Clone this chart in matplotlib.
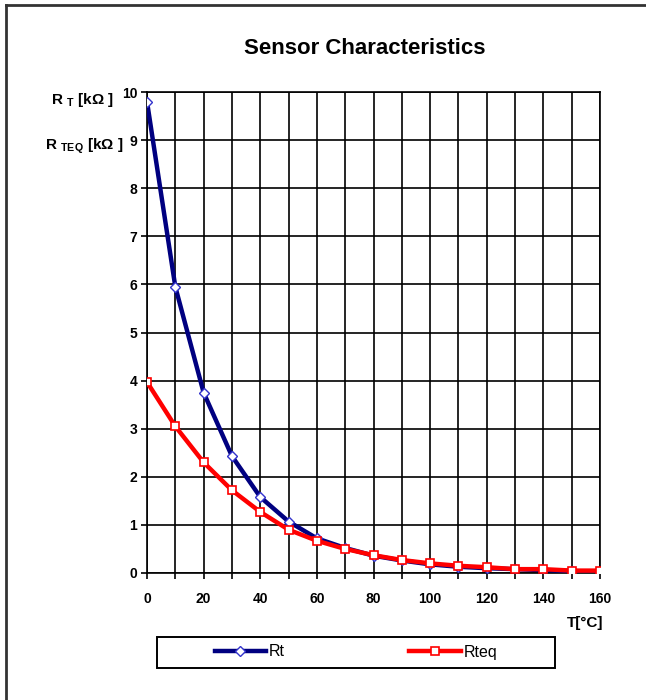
"""
Sensor Characteristics: Rt y Rteq frente a la temperatura.
"""
import matplotlib
matplotlib.use("Agg")
import matplotlib.pyplot as plt
from matplotlib.lines import Line2D
from matplotlib.patches import Rectangle

plt.rcParams['font.family'] = ['Liberation Sans', 'DejaVu Sans']
plt.rcParams['mathtext.fontset'] = 'custom'
plt.rcParams['mathtext.rm'] = 'Liberation Sans:bold'
plt.rcParams['mathtext.bf'] = 'Liberation Sans:bold'

# datos
temperatura = [0, 10, 20, 30, 40, 50, 60, 70, 80, 90, 100, 110, 120, 130, 140, 150, 160]
rt = [9.8, 5.95, 3.75, 2.43, 1.58, 1.07, 0.72, 0.52, 0.36, 0.26, 0.18, 0.13, 0.10,
      0.08, 0.06, 0.04, 0.03]
rteq = [3.97, 3.05, 2.30, 1.72, 1.27, 0.90, 0.67, 0.50, 0.37, 0.27, 0.20, 0.15, 0.12,
        0.08, 0.08, 0.05, 0.05]
xticks = list(range(0, 161, 10))
xlabels = [str(t) if t % 20 == 0 else '' for t in xticks]
yticks = list(range(0, 11))

W, H = 646, 700
fig = plt.figure(figsize=(W / 100, H / 100), dpi=100)
ax = fig.add_axes([147 / W, 1 - 573 / H, 453 / W, 481 / H])

l1, = ax.plot(temperatura, rt, color='#000080', lw=3.2, marker='D', ms=5,
              mfc='white', mec='#3333cc', mew=1, zorder=3, label='Rt')
l2, = ax.plot(temperatura, rteq, color='#ff0000', lw=3.2, marker='s', ms=6,
              mfc='white', mec='#ff0000', mew=1.2, zorder=4, label='Rteq')

ax.set_xlim(0, 160)
ax.set_ylim(0, 10)
ax.set_xticks(xticks)
ax.set_xticklabels(xlabels, fontsize=10, fontweight='bold')
ax.set_yticks(yticks)
ax.set_yticklabels([str(v) for v in yticks], fontsize=10, fontweight='bold')
ax.tick_params(direction='out', length=4, width=1.2, color='black')
ax.tick_params(axis='x', pad=10)
ax.tick_params(axis='y', pad=3)
ax.grid(True, color='black', lw=1.2)
for s in ax.spines.values():
    s.set_linewidth(1.2)

fig.text(365 / W, 1 - 48 / H, "Sensor Characteristics", ha='center', va='center',
         fontsize=16, fontweight='bold')

# etiquetas de eje al estilo Excel
fig.text(114 / W, 1 - 100 / H, r'R $_{\rm T}$ [kΩ ]', ha='right', va='center',
         fontsize=11, fontweight='bold')
fig.text(123 / W, 1 - 146 / H, r'R $_{\rm TEQ}$ [kΩ ]', ha='right', va='center',
         fontsize=11, fontweight='bold')
fig.text(585 / W, 1 - 623 / H, 'T[°C]', ha='center', va='center',
         fontsize=11, fontweight='bold')

# leyenda con marco aparte (157..555 x 637..668)
fig.add_artist(Rectangle((157 / W, 1 - 668 / H), 398 / W, 31 / H, fill=False,
                         edgecolor='black', lw=1.4, transform=fig.transFigure))
fig.legend(handles=[l1, l2], loc='center', ncol=2,
           bbox_to_anchor=(356 / W, 1 - 652 / H),
           frameon=False, fontsize=11.5, handlelength=3.2,
           handletextpad=0.2, columnspacing=7.8, borderaxespad=0, borderpad=0)

# marco exterior (solo borde superior e izquierdo visibles)
fig.add_artist(Line2D([6 / W, 6 / W], [0, 1 - 5 / H], color='#333333', lw=2,
                      transform=fig.transFigure))
fig.add_artist(Line2D([6 / W, 1], [1 - 5 / H, 1 - 5 / H], color='#333333', lw=2,
                      transform=fig.transFigure))

fig.savefig('out.png', dpi=100)
plt.close(fig)
